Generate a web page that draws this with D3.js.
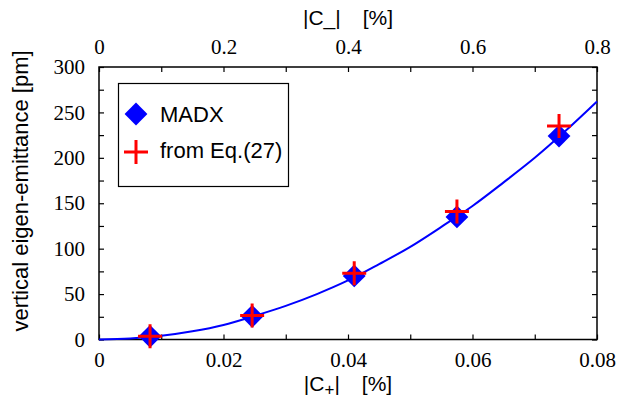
<!DOCTYPE html>
<html>
<head>
<meta charset="utf-8">
<script src="https://cdn.jsdelivr.net/npm/d3@7"></script>
<style>
  body { margin: 0; background: #fff; }
  svg { display: block; }
</style>
</head>
<body>
<div id="chart"></div>
<script>
// coupling |C+| in %, MADX eigen-emittance and Eq.(27) estimate in pm
var cPlus = [0.0082, 0.0246, 0.0410, 0.0575, 0.0739];
var madx = [3.5, 25.5, 70, 135, 224];
var eq27 = [3.5, 26.5, 73, 141, 235];

// fitted curve
var curveX = [0, 0.005, 0.01, 0.015, 0.02, 0.025, 0.03, 0.035, 0.04, 0.045, 0.05, 0.055, 0.06, 0.065, 0.07, 0.075, 0.08];
var curveY = [0, 1, 4, 9, 16, 26, 37, 50, 65, 83, 102, 124, 147, 173, 200, 230, 262];

var xTicks = [0, 0.02, 0.04, 0.06, 0.08];
var xMinor = [0.01, 0.03, 0.05, 0.07];
var topTicks = [0, 0.2, 0.4, 0.6, 0.8];
var topMinor = [0.1, 0.3, 0.5, 0.7];
var yTicks = [0, 50, 100, 150, 200, 250, 300];
var yMinor = [25, 75, 125, 175, 225, 275];

var width = 619, height = 409;
var margin = { left: 99, top: 67, right: 22, bottom: 69.5 };
var serif = "'Liberation Serif', 'Times New Roman', serif";
var sans = "'Liberation Sans', Arial, sans-serif";

var svg = d3.select("#chart").append("svg")
  .attr("width", width)
  .attr("height", height);

var x = d3.scaleLinear().domain([0, 0.08]).range([margin.left, width - margin.right]);
var xTop = d3.scaleLinear().domain([0, 0.8]).range([margin.left, width - margin.right]);
var y = d3.scaleLinear().domain([0, 300]).range([height - margin.bottom, margin.top]);

var tickLen = 5;

function tickGroup(sel) {
  sel.attr("font-family", serif).attr("font-size", 21);
  sel.select(".domain").remove();
  sel.selectAll(".tick line").attr("stroke", "#000").attr("stroke-width", 1.2);
  sel.selectAll(".tick text").attr("fill", "#000");
}

// bottom axis
svg.append("g")
  .attr("transform", "translate(0," + y(0) + ")")
  .call(d3.axisBottom(x).tickValues(xTicks).tickSize(-tickLen).tickPadding(13).tickFormat(d3.format("")))
  .call(tickGroup);
svg.append("g")
  .attr("transform", "translate(0," + y(0) + ")")
  .call(d3.axisBottom(x).tickValues(xMinor).tickSize(-tickLen).tickFormat(""))
  .call(tickGroup);

// top axis
svg.append("g")
  .attr("transform", "translate(0," + y(300) + ")")
  .call(d3.axisTop(xTop).tickValues(topTicks).tickSize(-tickLen).tickPadding(13).tickFormat(d3.format("")))
  .call(tickGroup);
svg.append("g")
  .attr("transform", "translate(0," + y(300) + ")")
  .call(d3.axisTop(xTop).tickValues(topMinor).tickSize(-tickLen).tickFormat(""))
  .call(tickGroup);

// left axis
svg.append("g")
  .attr("transform", "translate(" + x(0) + ",0)")
  .call(d3.axisLeft(y).tickValues(yTicks).tickSize(-tickLen).tickPadding(14))
  .call(tickGroup);
svg.append("g")
  .attr("transform", "translate(" + x(0) + ",0)")
  .call(d3.axisLeft(y).tickValues(yMinor).tickSize(-tickLen).tickFormat(""))
  .call(tickGroup);

// right axis
svg.append("g")
  .attr("transform", "translate(" + x(0.08) + ",0)")
  .call(d3.axisRight(y).tickValues(yTicks.concat(yMinor)).tickSize(-tickLen).tickFormat(""))
  .call(tickGroup);

// frame
svg.append("rect")
  .attr("x", x(0)).attr("y", y(300))
  .attr("width", x(0.08) - x(0)).attr("height", y(0) - y(300))
  .attr("fill", "none").attr("stroke", "#000").attr("stroke-width", 1.5);

// curve
var line = d3.line()
  .x(function (d, i) { return x(curveX[i]); })
  .y(function (d) { return y(d); })
  .curve(d3.curveMonotoneX);

svg.append("path")
  .datum(curveY)
  .attr("d", line)
  .attr("fill", "none")
  .attr("stroke", "#0000ff")
  .attr("stroke-width", 2);

var diamond = d3.symbol().type(d3.symbolSquare).size(260);

function drawDiamond(g, cx, cy) {
  g.append("path")
    .attr("d", diamond())
    .attr("transform", "translate(" + cx + "," + cy + ") rotate(45)")
    .attr("fill", "#0000ff");
}

function drawCross(g, cx, cy) {
  var h = 12;
  g.append("path")
    .attr("d", "M" + (cx - h) + "," + cy + "H" + (cx + h) + "M" + cx + "," + (cy - h) + "V" + (cy + h))
    .attr("stroke", "#ff0000")
    .attr("stroke-width", 3)
    .attr("fill", "none");
}

var marks = svg.append("g");
cPlus.forEach(function (c, i) { drawDiamond(marks, x(c), y(madx[i])); });
cPlus.forEach(function (c, i) { drawCross(marks, x(c), y(eq27[i])); });

// legend
var lg = svg.append("g").attr("font-family", sans).attr("font-size", 22);
lg.append("rect")
  .attr("x", 118.5).attr("y", 83.5).attr("width", 170).attr("height", 103)
  .attr("fill", "#fff").attr("stroke", "#000").attr("stroke-width", 1.2);
drawDiamond(lg, 136, 114);
drawCross(lg, 136, 152);
lg.append("text").attr("x", 160).attr("y", 122).text("MADX");
lg.append("text").attr("x", 160).attr("y", 158).text("from Eq.(27)");

// axis titles
var titles = svg.append("g").attr("font-family", sans).attr("font-size", 21);

var topTitle = titles.append("text").attr("x", 348).attr("y", 25).attr("text-anchor", "middle");
topTitle.append("tspan").text("|C_|");
topTitle.append("tspan").attr("dx", 22).text("[%]");

var botTitle = titles.append("text").attr("x", 348).attr("y", 391).attr("text-anchor", "middle");
botTitle.append("tspan").text("|C");
botTitle.append("tspan").attr("font-size", 17).attr("dy", 4).text("+");
botTitle.append("tspan").attr("dy", -4).text("|");
botTitle.append("tspan").attr("dx", 22).text("[%]");

titles.append("text")
  .attr("font-size", 22)
  .attr("transform", "translate(28,191) rotate(-90)")
  .attr("text-anchor", "middle")
  .text("vertical eigen-emittance [pm]");
</script>
</body>
</html>
